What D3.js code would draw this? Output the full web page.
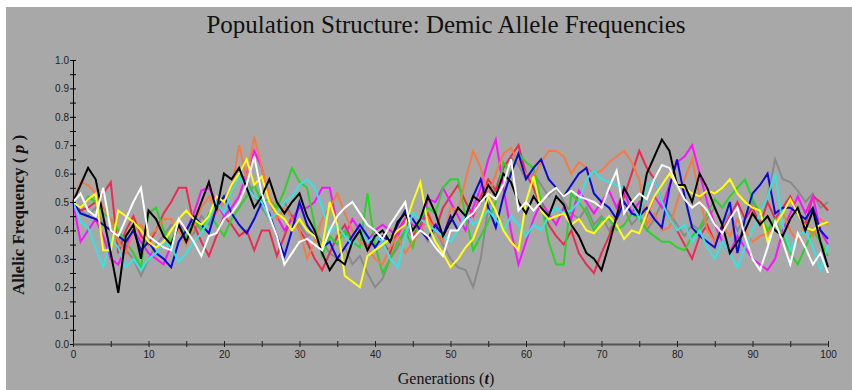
<!DOCTYPE html>
<html>
<head>
<meta charset="utf-8">
<script src="https://cdn.jsdelivr.net/npm/d3@7"></script>
<style>
  html, body { margin: 0; padding: 0; background: #fff; }
  svg { display: block; }
  .tick text { font-family: 'Liberation Sans Narrow', 'Liberation Sans', Arial, sans-serif; font-size: 10px; fill: #222; }
</style>
</head>
<body>
<script>
// generations 0..100, one value per generation for each deme
const generations = d3.range(0, 101)

const black = [0.50,
  0.56, 0.62, 0.58, 0.45, 0.32, 0.18, 0.38, 0.42, 0.30, 0.47,
  0.44, 0.38, 0.35, 0.42, 0.36, 0.43, 0.50, 0.57, 0.47, 0.60,
  0.58, 0.62, 0.55, 0.48, 0.52, 0.58, 0.50, 0.46, 0.50, 0.53,
  0.45, 0.40, 0.32, 0.26, 0.30, 0.28, 0.36, 0.40, 0.33, 0.38,
  0.40, 0.36, 0.43, 0.46, 0.40, 0.44, 0.52, 0.46, 0.38, 0.43,
  0.48, 0.45, 0.52, 0.50, 0.56, 0.52, 0.60, 0.57, 0.50, 0.46,
  0.52, 0.48, 0.45, 0.52, 0.49, 0.42, 0.38, 0.32, 0.30, 0.26,
  0.35, 0.45, 0.55, 0.50, 0.46, 0.60, 0.66, 0.72, 0.68, 0.56,
  0.56, 0.50, 0.60, 0.55, 0.48, 0.42, 0.32, 0.36, 0.40, 0.46,
  0.42, 0.45, 0.40, 0.38, 0.44, 0.48, 0.40, 0.47, 0.36, 0.27]

const gray = [0.50,
  0.47, 0.45, 0.48, 0.42, 0.40, 0.37, 0.33, 0.30, 0.24, 0.30,
  0.35, 0.38, 0.42, 0.40, 0.36, 0.39, 0.45, 0.42, 0.48, 0.52,
  0.55, 0.60, 0.58, 0.52, 0.48, 0.44, 0.46, 0.50, 0.45, 0.42,
  0.38, 0.40, 0.36, 0.32, 0.30, 0.34, 0.28, 0.31, 0.25, 0.20,
  0.23, 0.30, 0.34, 0.40, 0.38, 0.42, 0.36, 0.40, 0.35, 0.30,
  0.27, 0.26, 0.20, 0.30, 0.48, 0.55, 0.62, 0.66, 0.63, 0.58,
  0.60, 0.56, 0.52, 0.55, 0.50, 0.46, 0.44, 0.48, 0.42, 0.45,
  0.40, 0.44, 0.48, 0.42, 0.45, 0.40, 0.44, 0.50, 0.46, 0.42,
  0.38, 0.42, 0.40, 0.44, 0.48, 0.42, 0.46, 0.40, 0.44, 0.50,
  0.46, 0.52, 0.65, 0.58, 0.57, 0.54, 0.50, 0.53, 0.48, 0.50]

const red = [0.50,
  0.47, 0.48, 0.50, 0.53, 0.57, 0.32, 0.40, 0.45, 0.38, 0.35,
  0.40, 0.46, 0.50, 0.55, 0.55, 0.42, 0.36, 0.31, 0.38, 0.45,
  0.42, 0.38, 0.40, 0.33, 0.40, 0.40, 0.31, 0.38, 0.45, 0.40,
  0.36, 0.30, 0.26, 0.32, 0.38, 0.42, 0.36, 0.40, 0.34, 0.38,
  0.36, 0.32, 0.40, 0.44, 0.38, 0.42, 0.46, 0.40, 0.48, 0.52,
  0.56, 0.50, 0.45, 0.52, 0.58, 0.54, 0.62, 0.66, 0.70, 0.60,
  0.55, 0.48, 0.42, 0.38, 0.35, 0.40, 0.32, 0.28, 0.25, 0.32,
  0.38, 0.45, 0.52, 0.60, 0.68, 0.62, 0.58, 0.50, 0.44, 0.40,
  0.35, 0.30, 0.38, 0.42, 0.36, 0.40, 0.45, 0.50, 0.44, 0.48,
  0.42, 0.50, 0.44, 0.48, 0.52, 0.46, 0.42, 0.52, 0.50, 0.47]

const magenta = [0.50,
  0.36, 0.40, 0.44, 0.38, 0.30, 0.28, 0.34, 0.40, 0.36, 0.32,
  0.30, 0.28, 0.35, 0.42, 0.40, 0.46, 0.54, 0.55, 0.50, 0.45,
  0.48, 0.52, 0.60, 0.68, 0.62, 0.50, 0.45, 0.40, 0.44, 0.48,
  0.48, 0.50, 0.55, 0.55, 0.42, 0.38, 0.44, 0.40, 0.36, 0.40,
  0.42, 0.40, 0.38, 0.44, 0.42, 0.40, 0.51, 0.50, 0.55, 0.50,
  0.45, 0.40, 0.48, 0.55, 0.65, 0.72, 0.55, 0.40, 0.28, 0.36,
  0.44, 0.50, 0.46, 0.42, 0.48, 0.44, 0.54, 0.50, 0.46, 0.50,
  0.54, 0.48, 0.54, 0.46, 0.50, 0.45, 0.52, 0.48, 0.56, 0.64,
  0.66, 0.70, 0.60, 0.50, 0.42, 0.36, 0.32, 0.38, 0.34, 0.30,
  0.28, 0.26, 0.30, 0.40, 0.46, 0.52, 0.46, 0.52, 0.40, 0.35]

const blue = [0.50,
  0.46, 0.45, 0.44, 0.42, 0.40, 0.38, 0.36, 0.40, 0.33, 0.36,
  0.32, 0.30, 0.27, 0.36, 0.40, 0.45, 0.42, 0.39, 0.48, 0.52,
  0.46, 0.42, 0.39, 0.44, 0.50, 0.46, 0.38, 0.31, 0.40, 0.50,
  0.42, 0.38, 0.34, 0.36, 0.30, 0.34, 0.38, 0.42, 0.38, 0.34,
  0.38, 0.36, 0.42, 0.47, 0.44, 0.40, 0.37, 0.42, 0.38, 0.45,
  0.40, 0.45, 0.52, 0.58, 0.48, 0.41, 0.52, 0.60, 0.67, 0.58,
  0.62, 0.65, 0.58, 0.55, 0.52, 0.56, 0.60, 0.62, 0.53, 0.50,
  0.48, 0.44, 0.50, 0.46, 0.45, 0.48, 0.44, 0.41, 0.55, 0.65,
  0.52, 0.41, 0.38, 0.36, 0.34, 0.42, 0.50, 0.32, 0.44, 0.53,
  0.56, 0.60, 0.46, 0.48, 0.48, 0.46, 0.44, 0.48, 0.40, 0.37]

const green = [0.50,
  0.48, 0.52, 0.50, 0.46, 0.44, 0.40, 0.36, 0.32, 0.27, 0.46,
  0.48, 0.40, 0.36, 0.42, 0.38, 0.44, 0.40, 0.46, 0.42, 0.38,
  0.44, 0.48, 0.52, 0.56, 0.50, 0.51, 0.48, 0.54, 0.62, 0.57,
  0.55, 0.42, 0.31, 0.38, 0.35, 0.40, 0.36, 0.34, 0.53, 0.35,
  0.25, 0.30, 0.36, 0.40, 0.34, 0.44, 0.48, 0.46, 0.55, 0.58,
  0.58, 0.45, 0.33, 0.38, 0.43, 0.50, 0.64, 0.60, 0.67, 0.64,
  0.62, 0.50, 0.36, 0.28, 0.28, 0.53, 0.50, 0.46, 0.40, 0.44,
  0.44, 0.40, 0.42, 0.46, 0.44, 0.40, 0.38, 0.36, 0.36, 0.34,
  0.33, 0.38, 0.41, 0.46, 0.51, 0.48, 0.52, 0.55, 0.58, 0.51,
  0.46, 0.40, 0.44, 0.38, 0.32, 0.28, 0.34, 0.40, 0.36, 0.31]

const orange = [0.50,
  0.57, 0.56, 0.53, 0.48, 0.44, 0.36, 0.32, 0.40, 0.42, 0.38,
  0.40, 0.44, 0.44, 0.40, 0.35, 0.42, 0.48, 0.52, 0.46, 0.50,
  0.54, 0.70, 0.58, 0.73, 0.62, 0.52, 0.44, 0.48, 0.44, 0.40,
  0.30, 0.36, 0.44, 0.48, 0.53, 0.46, 0.40, 0.36, 0.34, 0.30,
  0.28, 0.34, 0.38, 0.32, 0.36, 0.40, 0.44, 0.40, 0.36, 0.48,
  0.47, 0.58, 0.68, 0.62, 0.52, 0.60, 0.67, 0.69, 0.64, 0.60,
  0.59, 0.64, 0.68, 0.68, 0.66, 0.60, 0.64, 0.62, 0.60, 0.61,
  0.64, 0.66, 0.68, 0.64, 0.58, 0.42, 0.46, 0.40, 0.41, 0.50,
  0.58, 0.65, 0.52, 0.40, 0.36, 0.42, 0.38, 0.44, 0.40, 0.36,
  0.38, 0.39, 0.42, 0.46, 0.40, 0.36, 0.42, 0.38, 0.44, 0.42]

const cyan = [0.50,
  0.43, 0.41, 0.34, 0.27, 0.37, 0.34, 0.27, 0.30, 0.26, 0.30,
  0.32, 0.36, 0.34, 0.29, 0.32, 0.36, 0.39, 0.44, 0.50, 0.46,
  0.54, 0.59, 0.55, 0.52, 0.50, 0.44, 0.46, 0.50, 0.52, 0.56,
  0.58, 0.55, 0.48, 0.39, 0.42, 0.38, 0.35, 0.40, 0.36, 0.38,
  0.36, 0.30, 0.27, 0.38, 0.46, 0.44, 0.42, 0.40, 0.38, 0.36,
  0.40, 0.46, 0.42, 0.44, 0.47, 0.44, 0.40, 0.45, 0.42, 0.38,
  0.42, 0.40, 0.45, 0.48, 0.46, 0.47, 0.50, 0.58, 0.61, 0.58,
  0.57, 0.56, 0.55, 0.50, 0.44, 0.56, 0.58, 0.50, 0.44, 0.40,
  0.42, 0.36, 0.40, 0.34, 0.30, 0.36, 0.32, 0.27, 0.34, 0.40,
  0.46, 0.52, 0.60, 0.42, 0.33, 0.38, 0.40, 0.34, 0.26, 0.35]

const yellow = [0.50,
  0.48, 0.51, 0.53, 0.33, 0.33, 0.47, 0.45, 0.43, 0.40, 0.36,
  0.34, 0.36, 0.40, 0.44, 0.47, 0.44, 0.42, 0.45, 0.52, 0.50,
  0.56, 0.60, 0.65, 0.56, 0.59, 0.50, 0.46, 0.44, 0.40, 0.44,
  0.40, 0.38, 0.34, 0.50, 0.42, 0.24, 0.22, 0.20, 0.31, 0.33,
  0.35, 0.37, 0.40, 0.42, 0.50, 0.57, 0.42, 0.36, 0.32, 0.27,
  0.30, 0.34, 0.37, 0.44, 0.52, 0.47, 0.40, 0.36, 0.33, 0.50,
  0.59, 0.47, 0.44, 0.45, 0.46, 0.42, 0.44, 0.40, 0.39, 0.42,
  0.45, 0.42, 0.37, 0.40, 0.39, 0.46, 0.52, 0.56, 0.60, 0.56,
  0.55, 0.53, 0.52, 0.54, 0.53, 0.55, 0.58, 0.53, 0.50, 0.48,
  0.47, 0.36, 0.42, 0.46, 0.51, 0.46, 0.41, 0.40, 0.42, 0.43]

const white = [0.50,
  0.53, 0.47, 0.45, 0.55, 0.40, 0.38, 0.44, 0.50, 0.55, 0.38,
  0.36, 0.34, 0.33, 0.44, 0.40, 0.36, 0.31, 0.38, 0.39, 0.44,
  0.46, 0.50, 0.56, 0.66, 0.53, 0.45, 0.38, 0.28, 0.32, 0.36,
  0.37, 0.35, 0.33, 0.40, 0.45, 0.48, 0.50, 0.46, 0.42, 0.40,
  0.37, 0.42, 0.46, 0.50, 0.37, 0.40, 0.38, 0.34, 0.31, 0.40,
  0.40, 0.44, 0.46, 0.50, 0.53, 0.51, 0.56, 0.65, 0.47, 0.50,
  0.47, 0.50, 0.53, 0.55, 0.52, 0.54, 0.52, 0.51, 0.50, 0.48,
  0.55, 0.61, 0.46, 0.50, 0.53, 0.51, 0.58, 0.63, 0.62, 0.56,
  0.51, 0.48, 0.50, 0.47, 0.42, 0.39, 0.44, 0.48, 0.38, 0.30,
  0.26, 0.34, 0.43, 0.36, 0.28, 0.39, 0.34, 0.28, 0.32, 0.25]

// drawing order: first drawn lies underneath
const demes = [
  { color: '#8a8a8a', values: gray },
  { color: '#ee2a4e', values: red },
  { color: '#ff10ff', values: magenta },
  { color: '#28d428', values: green },
  { color: '#f77a45', values: orange },
  { color: '#0a0ad8', values: blue },
  { color: '#33e4e4', values: cyan },
  { color: '#ffff10', values: yellow },
  { color: '#000000', values: black },
  { color: '#ffffff', values: white }
]

const yTicks = d3.range(0, 21).map(function (i) { return i / 20 })
const xTicks = d3.range(0, 21).map(function (i) { return i * 5 })

const width = 852
const height = 390
const margin = { top: 60, right: 24, bottom: 46, left: 73 }

const svg = d3.select('body').append('svg')
  .attr('width', width)
  .attr('height', height)

svg.append('rect')
  .attr('x', 6).attr('y', 7)
  .attr('width', width - 6).attr('height', height - 7)
  .attr('fill', '#a8a8a8')

const scaleX = d3.scaleLinear().domain([0, 100]).range([margin.left, width - margin.right])
const scaleY = d3.scaleLinear().domain([0, 1]).range([height - margin.bottom, margin.top])

svg.append('text')
  .attr('x', 446).attr('y', 33)
  .attr('text-anchor', 'middle')
  .style('font-family', "'Liberation Serif', 'Times New Roman', serif")
  .style('font-size', '25px')
  .attr('fill', '#111')
  .text('Population Structure: Demic Allele Frequencies')

// lines
const line = d3.line()
  .x(function (d, i) { return scaleX(generations[i]) })
  .y(function (d) { return scaleY(d) })

svg.append('g')
  .attr('class', 'panel')
  .selectAll('path')
  .data(demes)
  .enter()
  .append('path')
  .attr('d', function (d) { return line(d.values) })
  .attr('fill', 'none')
  .attr('stroke', function (d) { return d.color })
  .attr('stroke-width', 2)
  .attr('stroke-linejoin', 'miter')

// y axis
const axisY = d3.axisLeft(scaleY)
  .tickValues(yTicks)
  .tickSize(0)
  .tickPadding(4)
  .tickFormat(function (d) { return Math.round(d * 20) % 2 === 0 ? d3.format('.1f')(d) : '' })
const gy = svg.append('g')
  .attr('transform', 'translate(' + margin.left + ',0)')
  .call(axisY)
gy.select('.domain').attr('stroke', '#000').attr('stroke-width', 1)
gy.selectAll('.tick').append('line')
  .attr('x1', -3).attr('x2', 3)
  .attr('stroke', '#000')

// x axis
const axisX = d3.axisBottom(scaleX)
  .tickValues(xTicks)
  .tickSize(0)
  .tickPadding(7)
  .tickFormat(function (d) { return d % 10 === 0 ? d : '' })
const gx = svg.append('g')
  .attr('transform', 'translate(0,' + scaleY(0) + ')')
  .call(axisX)
gx.select('.domain').attr('stroke', '#555').attr('stroke-width', 2)
gx.selectAll('.tick').append('line')
  .attr('y1', -3).attr('y2', 3)
  .attr('stroke', '#222')

// axis titles
const xTitle = svg.append('text')
  .attr('x', 446).attr('y', 384)
  .attr('text-anchor', 'middle')
  .style('font-family', "'Liberation Serif', 'Times New Roman', serif")
  .style('font-size', '16px')
  .attr('fill', '#111')
xTitle.append('tspan').text('Generations (')
xTitle.append('tspan').style('font-weight', 'bold').style('font-style', 'italic').text('t')
xTitle.append('tspan').text(')')

const yTitle = svg.append('text')
  .attr('transform', 'translate(24,215) rotate(-90)')
  .attr('text-anchor', 'middle')
  .style('font-family', "'Liberation Serif', 'Times New Roman', serif")
  .style('font-size', '17px')
  .style('font-weight', 'bold')
  .attr('fill', '#111')
yTitle.append('tspan').text('Allelic Frequency ( ')
yTitle.append('tspan').style('font-style', 'italic').text('p')
yTitle.append('tspan').text(' )')
</script>
</body>
</html>
